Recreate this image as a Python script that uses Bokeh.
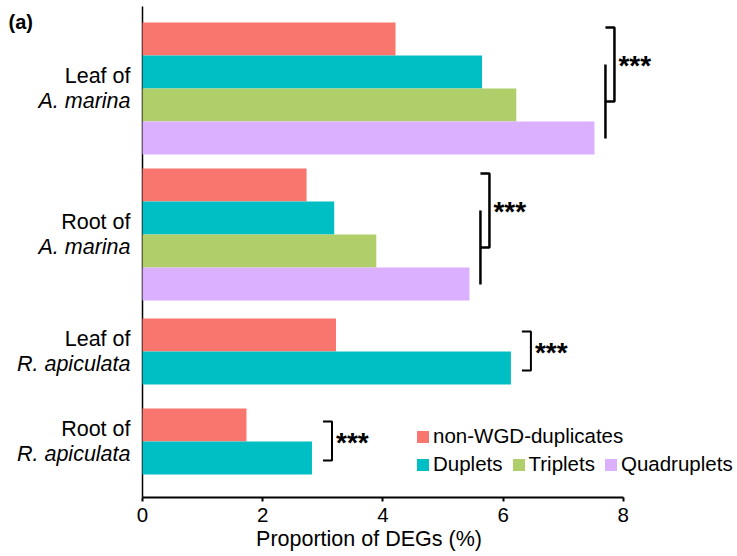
from bokeh.plotting import figure
from bokeh.models import Range1d, Label, Legend, LegendItem, FixedTicker
from bokeh.embed import file_html
from bokeh.resources import INLINE

# ---------------- data ----------------
tissues = ["Leaf of", "Root of", "Leaf of", "Root of"]
species = ["A. marina", "A. marina", "R. apiculata", "R. apiculata"]
series_names = ["non-WGD-duplicates", "Duplets", "Triplets", "Quadruplets"]
non_wgd = [4.21, 2.73, 3.22, 1.73]
duplets = [5.65, 3.19, 6.13, 2.82]
triplets = [6.22, 3.89, None, None]
quadruplets = [7.52, 5.44, None, None]
signif = ["***", "***", "***", "***"]
x_ticks = [0, 2, 4, 6, 8]

# ---------------- layout / style ----------------
colors = ["#F8766D", "#00BFC4", "#B0CF6A", "#DBB0FF"]
FONT = "Liberation Sans"
FS = "20px"
FS_BIG = "21.5px"
BAR_H = 33
group_top = [22, 168, 318, 408]      # vertical layout of each group (frame px)
PX = 60.1                            # pixels per x unit
LEFT_PX = 142                        # where x = 0 sits
W, H = 737, 555
FRAME_H = 497

p = figure(width=W, height=H, output_backend="svg", toolbar_location=None,
           x_range=Range1d(-LEFT_PX / PX, (W - LEFT_PX) / PX),
           y_range=Range1d(FRAME_H, 0),
           min_border_left=0, min_border_right=0, min_border_top=0,
           min_border_bottom=H - FRAME_H)
p.outline_line_color = None
p.xgrid.visible = False
p.ygrid.visible = False
p.yaxis.visible = False

# x axis
xa = p.xaxis[0]
xa.ticker = FixedTicker(ticks=x_ticks)
xa.bounds = (0, 8)
xa.axis_line_width = 2
xa.major_tick_line_width = 2
xa.major_tick_out = 4
xa.major_tick_in = 0
xa.minor_tick_line_color = None
xa.major_label_text_font = FONT
xa.major_label_text_font_size = "20.5px"
xa.major_label_text_color = "black"
xa.major_label_standoff = 6
xa.axis_label = "Proportion of DEGs (%)"
xa.axis_label_text_font = FONT
xa.axis_label_text_font_size = FS_BIG
xa.axis_label_text_font_style = "normal"
xa.axis_label_text_color = "black"
xa.axis_label_standoff = 2

# y axis line
p.segment(x0=0, x1=0, y0=6, y1=FRAME_H, line_color="black", line_width=1.5)

# bars
all_series = [non_wgd, duplets, triplets, quadruplets]
renderers = []
for si, vals in enumerate(all_series):
    ys, rs = [], []
    for g, v in enumerate(vals):
        if v is None:
            continue
        ys.append(group_top[g] + (si + 0.5) * BAR_H)
        rs.append(v)
    r = p.hbar(y=ys, left=0, right=rs, height=BAR_H, color=colors[si], line_color=None)
    renderers.append(r)

# brackets + stars
for g in range(4):
    vals = [s[g] for s in all_series if s[g] is not None]
    vmax = max(vals)
    xin = vmax + 11 / PX
    xout = vmax + 20 / PX
    t = group_top[g]
    if len(vals) == 4:
        top, mid = t + 5, t + 79
        xs = [[xin, xout, xout, xin], [xin, xin]]
        yy = [[top, top, mid, mid], [t + 42, t + 116]]
        lw = 2.5
    else:
        top, mid = t + 13, t + 52
        xs = [[xin, xout, xout, xin]]
        yy = [[top, top, mid, mid]]
        lw = 2
    p.multi_line(xs=xs, ys=yy, line_color="black", line_width=lw)
    p.add_layout(Label(x=xout + 4 / PX, y=(top + mid) / 2, text=signif[g],
                       text_font=FONT, text_font_size="28px", text_font_style="bold",
                       text_color="black",
                       text_baseline="middle", text_align="left", y_offset=-1))

# category labels
for g in range(4):
    n = sum(1 for s in all_series if s[g] is not None)
    c = group_top[g] + n * BAR_H / 2
    p.add_layout(Label(x=-12 / PX, y=c - 12.5, text=tissues[g], text_font=FONT,
                       text_font_size=FS_BIG, text_color="black",
                       text_align="right", text_baseline="middle"))
    p.add_layout(Label(x=-12 / PX, y=c + 12.5, text=species[g], text_font=FONT,
                       text_font_size=FS_BIG, text_font_style="italic", text_color="black",
                       text_align="right", text_baseline="middle"))

p.add_layout(Label(x=-LEFT_PX / PX, y=21, x_offset=8, text="(a)", text_font=FONT,
                   text_font_size=FS, text_font_style="bold", text_color="black",
                   text_align="left", text_baseline="middle"))

# legends
def mk_legend(items, loc, orient):
    lg = Legend(items=items, location=loc, orientation=orient, padding=0, margin=0,
                border_line_color=None, background_fill_alpha=0,
                glyph_width=15, glyph_height=15, label_standoff=3,
                label_text_font=FONT, label_text_font_size="20.5px",
                label_text_color="black",
                label_height=15, spacing=8)
    p.add_layout(lg, "center")

mk_legend([LegendItem(label=series_names[0], renderers=[renderers[0]])], (415, 49), "vertical")
mk_legend([LegendItem(label=series_names[i], renderers=[renderers[i]]) for i in (1, 2, 3)],
          (415, 21), "horizontal")

open("out.html", "w").write(file_html(p, INLINE))
